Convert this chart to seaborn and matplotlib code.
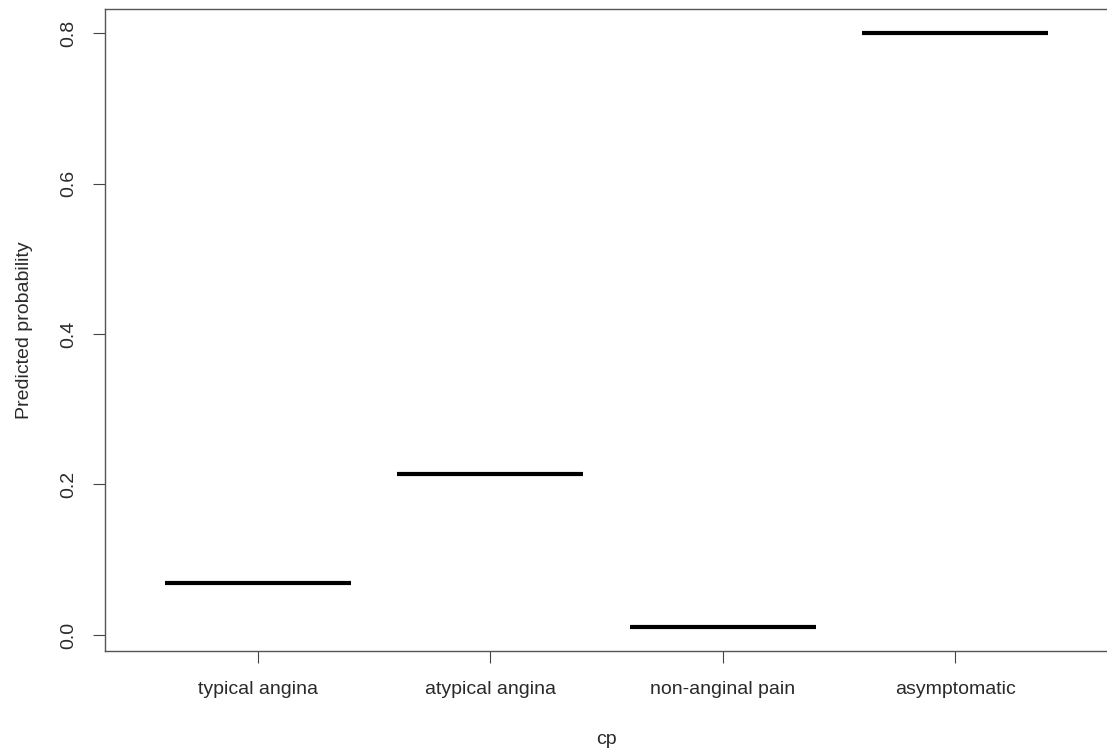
import matplotlib
matplotlib.use("Agg")
import matplotlib.pyplot as plt
import seaborn as sns
import pandas as pd

categories = ["typical angina", "atypical angina", "non-anginal pain", "asymptomatic"]
probabilities = [0.069, 0.2136, 0.0104, 0.800]
y_ticks = [0.0, 0.2, 0.4, 0.6, 0.8]
y_tick_labels = ["0.0", "0.2", "0.4", "0.6", "0.8"]

sns.set_theme(style="white")
plt.rcParams["font.family"] = ["Liberation Sans", "DejaVu Sans"]

df = pd.DataFrame({"cp": pd.Categorical(categories, categories=categories, ordered=True),
                   "prob": probabilities})

fig = plt.figure(figsize=(11.07, 7.55), dpi=100)
ax = fig.add_axes([104.7 / 1107, (755 - 651) / 755, 1003.7 / 1107, 642 / 755])

sns.boxplot(data=df, x="cp", y="prob", order=categories, width=0.8, ax=ax,
            showfliers=False,
            boxprops=dict(facecolor="none", edgecolor="none", linewidth=0),
            whiskerprops=dict(linewidth=0),
            capprops=dict(linewidth=0),
            medianprops=dict(color="black", linewidth=3, solid_capstyle="butt"))

ax.set_xlim(-0.66, 3.66)
ax.set_ylim(-0.0213, 0.832)
ax.set_yticks(y_ticks)
ax.set_yticklabels(y_tick_labels, rotation=90, va="center")
ax.set_xlabel("cp", fontsize=14, color="#2a2a2a", labelpad=24)
ax.set_ylabel("Predicted probability", fontsize=14, color="#2a2a2a", labelpad=20)

ax.tick_params(axis="both", direction="out", length=8.6, width=0.8, color="#444444",
               labelsize=14, labelcolor="#2a2a2a", bottom=True, left=True)
ax.tick_params(axis="x", pad=13)
ax.tick_params(axis="y", pad=11)
for s in ax.spines.values():
    s.set_color("#555555")
    s.set_linewidth(1.0)

fig.savefig("out.png", dpi=100)
